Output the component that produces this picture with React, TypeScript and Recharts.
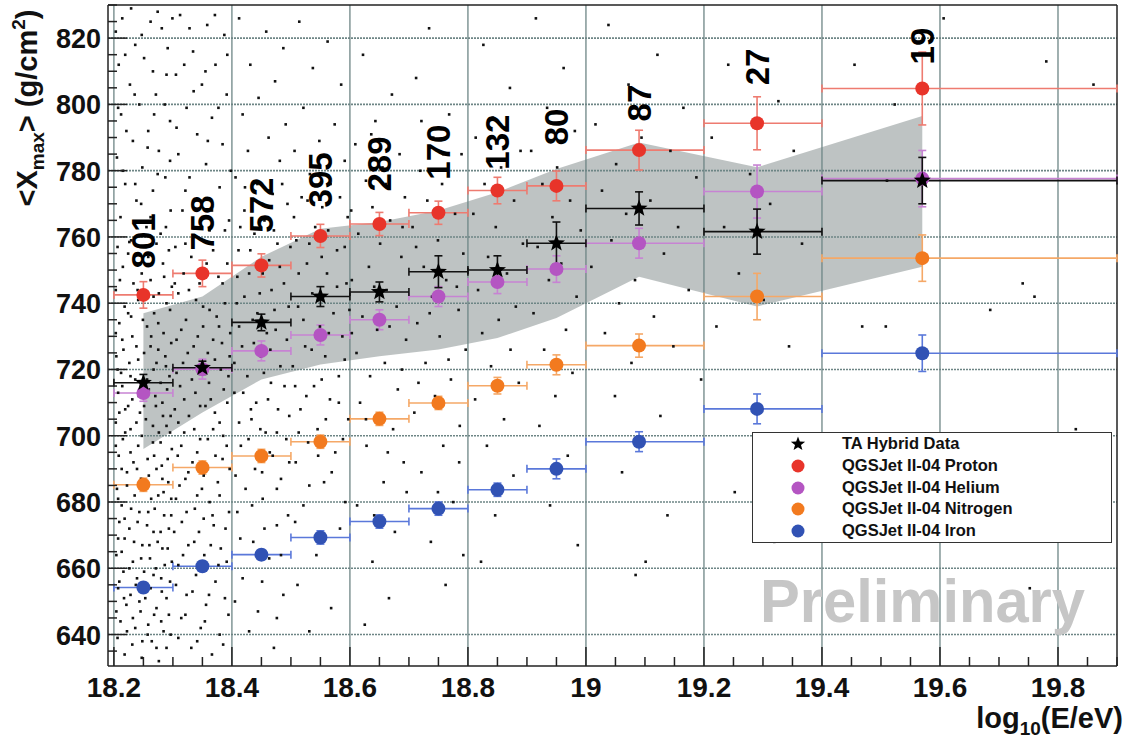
import React from 'react';
import { ComposedChart, Area, Scatter, ErrorBar, XAxis, YAxis, ReferenceLine } from 'recharts';

// energy bins (log10 E/eV)
const binCenters = [18.25, 18.35, 18.45, 18.55, 18.65, 18.75, 18.85, 18.95, 19.09, 19.29, 19.57];
const binLow = [18.2, 18.3, 18.4, 18.5, 18.6, 18.7, 18.8, 18.9, 19.0, 19.2, 19.4];
const binHigh = [18.3, 18.4, 18.5, 18.6, 18.7, 18.8, 18.9, 19.0, 19.2, 19.4, 19.9];

// <Xmax> values, g/cm2
const taMean = [716, 720.5, 734.2, 742, 743.4, 749.5, 750, 758.1, 768.6, 761.6, 777];
const taErr = [2.5, 2, 2.5, 3, 3, 4.8, 4.3, 6.4, 5, 6.8, 7];
const protonMean = [742.5, 749, 751.4, 760.3, 763.9, 767.3, 774, 775.4, 786.2, 794.3, 804.8];
const protonErr = [4, 4, 3.5, 3.5, 3.5, 3.5, 4, 4.5, 6, 8, 11];
const heliumMean = [712.9, 720.1, 725.6, 730.4, 735, 742, 746.4, 750.3, 758.1, 773.7, 777.6];
const heliumErr = [2.5, 3, 3, 3, 3, 3, 3.5, 4, 4.5, 8, 8.5];
const nitrogenMean = [685.2, 690.4, 693.9, 698.2, 705.1, 709.9, 715.1, 721.4, 727.2, 742, 753.6];
const nitrogenErr = [2, 2, 2, 2, 2, 2, 2.5, 3, 3.5, 7, 7];
const ironMean = [654.2, 660.6, 664.1, 669.3, 674.1, 678, 683.7, 690, 698.2, 708.1, 724.9];
const ironErr = [1.5, 1.5, 1.5, 2, 2, 2, 2, 3, 3, 4.5, 5.5];

// systematic band around the TA data
const bandHi = [737, 742, 754, 762.5, 764.5, 768, 773.5, 780.5, 788.5, 781, 796.5];
const bandLo = [696, 707, 717, 721.5, 724, 726, 729.5, 735.5, 748, 739, 751];

// number of events per bin
const eventCounts = [801, 758, 572, 395, 289, 170, 132, 80, 87, 27, 19];
const countLabelY = [758.8, 764.2, 769.6, 777.2, 782, 785.6, 788.6, 793.2, 800.4, 811.3, 817.6];

// individual events (log10 E, Xmax)
const events1820 = [
  [18.214, 826], [18.262, 825], [18.281, 823], [18.236, 818], [18.208, 812], [18.251, 814], [18.289, 809], [18.227, 806],
  [18.271, 803], [18.243, 800], [18.212, 797], [18.295, 795], [18.258, 792], [18.232, 789], [18.276, 786], [18.205, 784],
  [18.248, 781], [18.287, 778], [18.219, 776], [18.266, 774], [18.238, 771], [18.296, 768], [18.211, 766], [18.255, 763],
  [18.279, 761], [18.229, 759], [18.291, 817], [18.221, 792], [18.268, 797], [18.246, 770],
  [18.229, 829], [18.274, 828], [18.203, 822], [18.247, 821], [18.299, 826], [18.219, 815], [18.266, 810], [18.235, 803],
  [18.286, 800], [18.207, 799], [18.257, 787], [18.295, 783], [18.215, 780], [18.274, 779], [18.236, 776], [18.262, 766],
  [18.288, 763],
  [18.206, 757], [18.224, 755], [18.272, 758], [18.293, 756], [18.215, 751], [18.247, 749], [18.283, 752], [18.262, 747],
  [18.203, 744], [18.233, 746], [18.276, 743], [18.298, 745], [18.218, 739], [18.241, 741], [18.268, 737], [18.289, 740],
  [18.209, 734], [18.229, 736], [18.256, 733], [18.284, 731], [18.214, 729], [18.238, 727], [18.263, 730], [18.297, 728],
  [18.275, 726], [18.204, 724], [18.226, 722], [18.251, 725], [18.288, 721], [18.212, 719], [18.236, 717], [18.267, 720],
  [18.279, 716], [18.294, 718], [18.207, 713], [18.231, 711], [18.259, 714], [18.282, 710], [18.219, 708], [18.244, 707],
  [18.271, 709], [18.296, 706], [18.203, 704], [18.228, 702], [18.254, 705], [18.276, 701], [18.289, 703], [18.215, 699],
  [18.241, 697], [18.266, 698], [18.298, 696], [18.208, 694], [18.233, 692], [18.257, 693], [18.281, 691], [18.222, 689],
  [18.246, 687], [18.272, 690], [18.292, 686], [18.205, 684], [18.235, 682], [18.263, 681], [18.284, 683], [18.213, 679],
  [18.243, 677], [18.269, 678], [18.297, 676], [18.209, 674], [18.226, 672], [18.256, 673], [18.279, 671], [18.218, 669],
  [18.248, 667], [18.274, 668], [18.291, 666], [18.204, 664], [18.232, 662], [18.261, 663], [18.286, 661], [18.216, 659],
  [18.239, 657], [18.267, 658], [18.295, 656], [18.207, 654], [18.228, 652], [18.253, 651], [18.281, 653], [18.221, 649],
  [18.245, 647], [18.272, 648], [18.293, 646], [18.211, 644], [18.236, 642], [18.258, 643], [18.284, 641], [18.206, 639],
  [18.231, 637], [18.264, 638], [18.289, 636], [18.218, 634], [18.247, 633], [18.276, 632],
  [18.226, 758.5], [18.258, 754], [18.285, 748], [18.21, 747], [18.24, 744], [18.267, 742], [18.295, 738], [18.224, 737],
  [18.249, 735], [18.275, 734], [18.203, 731], [18.231, 730], [18.262, 727], [18.287, 724], [18.216, 726], [18.241, 723],
  [18.272, 722], [18.206, 720], [18.228, 718], [18.256, 717], [18.29, 714], [18.214, 715], [18.242, 712], [18.27, 712],
  [18.224, 709], [18.251, 709], [18.283, 706], [18.209, 707], [18.238, 704], [18.266, 703], [18.295, 701], [18.219, 701],
  [18.247, 700], [18.279, 698], [18.203, 697], [18.228, 695], [18.268, 694], [18.291, 693], [18.213, 690], [18.239, 690],
  [18.259, 688], [18.282, 687], [18.222, 685], [18.251, 684], [18.275, 682], [18.297, 681], [18.207, 681], [18.229, 678],
  [18.258, 677], [18.285, 676], [18.218, 675], [18.24, 674], [18.267, 671], [18.293, 672], [18.207, 669], [18.234, 668],
  [18.26, 667], [18.282, 666], [18.213, 665], [18.246, 663], [18.271, 660], [18.298, 662], [18.226, 660], [18.251, 659],
  [18.28, 657], [18.209, 656], [18.237, 655], [18.262, 654], [18.289, 651], [18.217, 651], [18.243, 650], [18.268, 646],
  [18.204, 647], [18.232, 645], [18.257, 640], [18.28, 644], [18.222, 641], [18.248, 638], [18.272, 636], [18.296, 640],
];
const events1830 = [
  [18.312, 827], [18.358, 824], [18.387, 821], [18.334, 816], [18.372, 812], [18.305, 809], [18.349, 806], [18.391, 803],
  [18.323, 799], [18.366, 796], [18.341, 791], [18.384, 788], [18.309, 785], [18.356, 782], [18.328, 778], [18.379, 775],
  [18.347, 771], [18.316, 768], [18.395, 765], [18.362, 762], [18.336, 760],
  [18.328, 823], [18.371, 827], [18.392, 815], [18.319, 812], [18.355, 810], [18.335, 804], [18.377, 799], [18.306, 793],
  [18.359, 789], [18.398, 780], [18.321, 774], [18.366, 768], [18.388, 762],
  [18.304, 757], [18.331, 754], [18.368, 756], [18.392, 752], [18.318, 749], [18.345, 746], [18.377, 748], [18.309, 743],
  [18.339, 741], [18.362, 738], [18.388, 740], [18.322, 735], [18.351, 733], [18.374, 736], [18.397, 731], [18.306, 729],
  [18.335, 727], [18.359, 725], [18.383, 728], [18.317, 722], [18.343, 719], [18.371, 723], [18.394, 718], [18.312, 715],
  [18.338, 713], [18.364, 711], [18.386, 714], [18.303, 708], [18.327, 706], [18.355, 709], [18.379, 704], [18.319, 701],
  [18.346, 699], [18.368, 702], [18.391, 697], [18.308, 694], [18.333, 692], [18.359, 690], [18.384, 693], [18.321, 687],
  [18.349, 684], [18.376, 686], [18.305, 681], [18.337, 678], [18.362, 680], [18.395, 677], [18.315, 674], [18.344, 671],
  [18.369, 673], [18.326, 667], [18.353, 664], [18.381, 666], [18.309, 661], [18.339, 658], [18.372, 656], [18.323, 652],
  [18.356, 649], [18.388, 651], [18.314, 645], [18.347, 642], [18.379, 640], [18.331, 636], [18.366, 634],
  [18.321, 758], [18.357, 752], [18.384, 746], [18.303, 746], [18.327, 744], [18.351, 739], [18.378, 733], [18.314, 732],
  [18.342, 730], [18.368, 729], [18.396, 724], [18.325, 725], [18.355, 721], [18.381, 720], [18.306, 719], [18.332, 717],
  [18.361, 716], [18.392, 710], [18.319, 711], [18.346, 709], [18.371, 707], [18.309, 704], [18.336, 702], [18.359, 699],
  [18.385, 700], [18.314, 697], [18.341, 695], [18.372, 694], [18.396, 690], [18.326, 689], [18.352, 688], [18.379, 682],
  [18.311, 685], [18.341, 682], [18.367, 676], [18.389, 672], [18.323, 677], [18.352, 675], [18.302, 671], [18.336, 668],
  [18.364, 667], [18.391, 662], [18.317, 664], [18.349, 660], [18.377, 661], [18.305, 655], [18.333, 653], [18.361, 652],
  [18.394, 646], [18.321, 646], [18.354, 644], [18.309, 639], [18.341, 638], [18.385, 637],
];
const events1840 = [
  [18.412, 826], [18.458, 822], [18.487, 817], [18.431, 812], [18.473, 807], [18.445, 802], [18.418, 797], [18.491, 794],
  [18.462, 790], [18.427, 786], [18.481, 783], [18.406, 778], [18.443, 776], [18.469, 773], [18.494, 770], [18.421, 768],
  [18.455, 765], [18.438, 761], [18.477, 758], [18.411, 756], [18.463, 753], [18.429, 749], [18.488, 746], [18.447, 743],
  [18.408, 740], [18.472, 738], [18.435, 735], [18.459, 731], [18.493, 729], [18.417, 727], [18.449, 724], [18.482, 721],
  [18.426, 718], [18.466, 716], [18.404, 713], [18.441, 710], [18.478, 708], [18.433, 705], [18.457, 701], [18.492, 699],
  [18.415, 697], [18.469, 694], [18.439, 690], [18.483, 687], [18.423, 684], [18.452, 681], [18.409, 677], [18.476, 673],
  [18.436, 668], [18.463, 663], [18.418, 657], [18.487, 652], [18.444, 647], [18.429, 641], [18.471, 636],
  [18.422, 775], [18.485, 776], [18.451, 770], [18.414, 763], [18.471, 762], [18.499, 757], [18.431, 756], [18.452, 749],
  [18.481, 751], [18.409, 748], [18.467, 744], [18.421, 742], [18.496, 739], [18.443, 737], [18.412, 733], [18.474, 732],
  [18.437, 728], [18.465, 726], [18.404, 722], [18.454, 719], [18.489, 715], [18.419, 713], [18.461, 711], [18.432, 708],
  [18.497, 706], [18.412, 704], [18.448, 702], [18.476, 701], [18.428, 699], [18.464, 695], [18.497, 692], [18.451, 689],
  [18.406, 688], [18.476, 684], [18.434, 679], [18.495, 676], [18.455, 672], [18.414, 669], [18.483, 664], [18.451, 656],
  [18.405, 650], [18.476, 645],
  [18.514, 825], [18.562, 819], [18.537, 811], [18.585, 806], [18.521, 799], [18.574, 794], [18.548, 789], [18.506, 786],
  [18.591, 783], [18.532, 779], [18.567, 776], [18.518, 772], [18.553, 769], [18.596, 766], [18.541, 763], [18.509, 759],
  [18.578, 756], [18.527, 752], [18.561, 749], [18.594, 746], [18.536, 743], [18.512, 739], [18.572, 737], [18.549, 733],
  [18.587, 730], [18.524, 727], [18.558, 724], [18.503, 721], [18.581, 718], [18.539, 715], [18.566, 711], [18.516, 708],
  [18.597, 705], [18.545, 702], [18.529, 698], [18.575, 695], [18.508, 692], [18.556, 686], [18.521, 679], [18.583, 672],
  [18.543, 664], [18.511, 655], [18.568, 648], [18.531, 641],
  [18.528, 771], [18.583, 772], [18.505, 766], [18.563, 762], [18.531, 758], [18.591, 757], [18.552, 754], [18.513, 749],
  [18.578, 745], [18.546, 741], [18.599, 738], [18.521, 735], [18.564, 731], [18.535, 726], [18.591, 723], [18.507, 715],
  [18.552, 717], [18.581, 710], [18.526, 712], [18.559, 705], [18.513, 701], [18.588, 699], [18.546, 694], [18.569, 689],
  [18.531, 685], [18.592, 680], [18.507, 674], [18.552, 669],
];
const events1860 = [
  [18.622, 815], [18.671, 803], [18.643, 795], [18.609, 788], [18.684, 785], [18.655, 781], [18.627, 777], [18.693, 772],
  [18.638, 769], [18.668, 765], [18.614, 761], [18.651, 758], [18.687, 754], [18.632, 751], [18.603, 747], [18.662, 744],
  [18.679, 739], [18.621, 736], [18.646, 732], [18.695, 729], [18.611, 725], [18.659, 722], [18.634, 718], [18.681, 714],
  [18.617, 710], [18.649, 706], [18.673, 702], [18.628, 697], [18.691, 692], [18.657, 686], [18.612, 679], [18.676, 671],
  [18.638, 662], [18.666, 651], [18.625, 643],
  [18.636, 791], [18.661, 776], [18.602, 768], [18.689, 763], [18.641, 745], [18.667, 733], [18.603, 731], [18.688, 720],
  [18.627, 705], [18.664, 695], [18.696, 683], [18.641, 676],
  [18.734, 823], [18.712, 808], [18.768, 797], [18.741, 790], [18.789, 785], [18.719, 780], [18.756, 776], [18.731, 771],
  [18.778, 767], [18.706, 763], [18.749, 759], [18.792, 755], [18.725, 751], [18.763, 747], [18.739, 742], [18.784, 738],
  [18.714, 734], [18.752, 730], [18.796, 726], [18.728, 722], [18.771, 717], [18.744, 712], [18.709, 707], [18.786, 703],
  [18.758, 697], [18.721, 689], [18.775, 680], [18.737, 668], [18.762, 655],
  [18.721, 795], [18.758, 785], [18.712, 757], [18.781, 745], [18.735, 737], [18.767, 723], [18.716, 716], [18.785, 692],
  [18.749, 683], [18.792, 664],
];
const events1880 = [
  [18.826, 818], [18.871, 805], [18.842, 796], [18.813, 790], [18.889, 786], [18.856, 781], [18.828, 776], [18.878, 771],
  [18.809, 767], [18.847, 763], [18.893, 758], [18.834, 754], [18.866, 749], [18.817, 744], [18.881, 739], [18.852, 735],
  [18.824, 731], [18.872, 726], [18.839, 721], [18.886, 716], [18.812, 711], [18.861, 705], [18.832, 697], [18.877, 688],
  [18.846, 676], [18.822, 662],
  [18.915, 826], [18.962, 811], [18.934, 799], [18.981, 792], [18.907, 786], [18.951, 781], [18.926, 776], [18.973, 771],
  [18.943, 766], [18.991, 762], [18.918, 757], [18.958, 752], [18.937, 747], [18.984, 742], [18.911, 737], [18.966, 732],
  [18.929, 726], [18.977, 719], [18.948, 712], [18.921, 703], [18.969, 694], [18.939, 679], [18.986, 667],
];
const events1900 = [
  [19.038, 824], [19.121, 815], [19.072, 806], [19.165, 799], [19.016, 794], [19.094, 790], [19.143, 786], [19.051, 782],
  [19.187, 778], [19.027, 774], [19.109, 771], [19.068, 767], [19.156, 763], [19.043, 759], [19.132, 755], [19.009, 751],
  [19.083, 747], [19.174, 744], [19.056, 740], [19.115, 736], [19.032, 731], [19.148, 727], [19.077, 722], [19.195, 717],
  [19.049, 712], [19.126, 706], [19.091, 699], [19.061, 689], [19.138, 676], [19.101, 662], [19.084, 658],
  [19.241, 812], [19.326, 801], [19.213, 790], [19.352, 786], [19.278, 779], [19.312, 770], [19.234, 763], [19.366, 758],
  [19.259, 749], [19.301, 741], [19.221, 733], [19.344, 727], [19.284, 696], [19.372, 690], [19.252, 683], [19.319, 668],
  [19.606, 826], [19.455, 812], [19.523, 800], [19.78, 813], [19.86, 806], [19.468, 733], [19.508, 733], [19.685, 738],
  [19.74, 746], [19.76, 742], [19.51, 777], [19.83, 702], [19.47, 697], [19.752, 654],
];

const xMajor = [18.2, 18.4, 18.6, 18.8, 19, 19.2, 19.4, 19.6, 19.8];
const yMajor = [640, 660, 680, 700, 720, 740, 760, 780, 800, 820];

const FONT = '"Liberation Sans", Arial, Helvetica, sans-serif';
const X_DOMAIN: [number, number] = [18.19, 19.9];
const Y_DOMAIN: [number, number] = [630.5, 830];

const xTicks: number[] = [];
for (let i = 0; i <= 34; i++) xTicks.push(Math.round((18.2 + i * 0.05) * 100) / 100);
const yTicks: number[] = [];
for (let v = 635; v <= 830; v += 5) yTicks.push(v);

const makeSeries = (mean: number[], err: number[]) =>
  binCenters.map((x, i) => ({ x, y: mean[i], ey: err[i], ex: [x - binLow[i], binHigh[i] - x] }));

const taData = makeSeries(taMean, taErr);
const protonData = makeSeries(protonMean, protonErr);
const heliumData = makeSeries(heliumMean, heliumErr);
const nitrogenData = makeSeries(nitrogenMean, nitrogenErr);
const ironData = makeSeries(ironMean, ironErr);
const bandData = binCenters.map((x, i) => ({ x, lo: bandLo[i], hi: bandHi[i] }));
const countData = binCenters.map((x, i) => ({ x, y: countLabelY[i], n: eventCounts[i] }));
const eventData = [...events1820, ...events1830, ...events1840, ...events1860, ...events1880, ...events1900].map(
  ([x, y]) => ({ x, y })
);

const models = [
  { name: 'QGSJet II-04 Proton', data: protonData, color: '#e8342a', bar: '#ee7b70' },
  { name: 'QGSJet II-04 Helium', data: heliumData, color: '#b455c2', bar: '#c783d3' },
  { name: 'QGSJet II-04 Nitrogen', data: nitrogenData, color: '#f27a1f', bar: '#f5a867' },
  { name: 'QGSJet II-04 Iron', data: ironData, color: '#3152b4', bar: '#5a78da' },
];

const isMajor = (v: number, step: number) => Math.abs(v / step - Math.round(v / step)) < 1e-6;

const XTick = (props: any) => {
  const { x, y, payload } = props;
  const v = payload.value;
  const major = isMajor(v, 0.2);
  return (
    <g>
      <line x1={x} x2={x} y1={y} y2={y - (major ? 19 : 9)} stroke="#222" strokeWidth={1.5} />
      {major && (
        <text x={x} y={y + 31} textAnchor="middle" fontSize={28} fontWeight="bold" fontFamily={FONT} fill="#111">
          {String(v)}
        </text>
      )}
    </g>
  );
};

const YTick = (props: any) => {
  const { x, y, payload } = props;
  const v = payload.value;
  const major = isMajor(v, 20);
  return (
    <g>
      <line x1={x} x2={x + (major ? 19 : 9)} y1={y} y2={y} stroke="#222" strokeWidth={1.5} />
      {major && (
        <text x={x - 7} y={y + 10} textAnchor="end" fontSize={27} fontWeight="bold" fontFamily={FONT} fill="#111">
          {String(v)}
        </text>
      )}
    </g>
  );
};

const Star = ({ cx, cy, size = 8, fill = '#000' }: any) => {
  if (cx == null || cy == null) return null;
  const pts: string[] = [];
  for (let i = 0; i < 10; i++) {
    const r = i % 2 === 0 ? size : size * 0.42;
    const a = -Math.PI / 2 + (i * Math.PI) / 5;
    pts.push(`${cx + r * Math.cos(a)},${cy + r * Math.sin(a)}`);
  }
  return <polygon points={pts.join(' ')} fill={fill} />;
};

const dotShape = (color: string) => (p: any) =>
  p.cx == null ? null : <circle cx={p.cx} cy={p.cy} r={7} fill={color} />;

const eventShape = (p: any) =>
  p.cx == null ? null : <rect x={p.cx - 1.2} y={p.cy - 1.2} width={2.6} height={2.6} fill="#111" />;

const CountLabel = (p: any) => {
  if (p.cx == null) return null;
  return (
    <text
      transform={`translate(${p.cx}, ${p.cy}) rotate(-90)`}
      textAnchor="middle"
      dominantBaseline="central"
      fontSize={33}
      fontWeight="bold"
      fontFamily={FONT}
      fill="#000"
    >
      {p.payload.n}
    </text>
  );
};

const Legend = () => (
  <div
    style={{
      position: 'absolute',
      left: 752,
      top: 432,
      width: 358,
      height: 109,
      border: '1.5px solid #333',
      background: '#fff',
      fontFamily: FONT,
      fontWeight: 'bold',
      fontSize: 16.5,
    }}
  >
    {[{ name: 'TA Hybrid Data', color: '#000', star: true }, ...models].map((m: any, i) => (
      <div key={m.name} style={{ position: 'absolute', left: 0, top: 1 + i * 21.8, height: 20, width: 356 }}>
        <svg width={30} height={20} style={{ position: 'absolute', left: 30, top: 0 }}>
          {m.star ? <Star cx={15} cy={10} size={7.5} /> : <circle cx={15} cy={10} r={6.5} fill={m.color} />}
        </svg>
        <span style={{ position: 'absolute', left: 89, top: 0, color: '#111', whiteSpace: 'nowrap' }}>{m.name}</span>
      </div>
    ))}
  </div>
);

const Titles = () => (
  <svg width={1130} height={742} style={{ position: 'absolute', left: 0, top: 0, pointerEvents: 'none' }}>
    <text x={760} y={622} fontSize={61} fontWeight="bold" fontFamily={FONT} fill="#c6c6c6" textLength={325} lengthAdjust="spacingAndGlyphs">
      Preliminary
    </text>
    <text transform="translate(37, 108) rotate(-90)" textAnchor="middle" fontSize={29} fontWeight="bold" fontFamily={FONT} fill="#111">
      {'<X'}
      <tspan fontSize={19} dy={7}>max</tspan>
      <tspan dy={-7}>{'> (g/cm'}</tspan>
      <tspan fontSize={19} dy={-12}>2</tspan>
      <tspan dy={12}>)</tspan>
    </text>
    <text x={1123} y={728} textAnchor="end" fontSize={29} fontWeight="bold" fontFamily={FONT} fill="#111">
      log
      <tspan fontSize={19} dy={7}>10</tspan>
      <tspan dy={-7}>(E/eV)</tspan>
    </text>
  </svg>
);

export default function App() {
  return (
    <div style={{ position: 'absolute', left: 0, top: 0, width: 1130, height: 742, background: '#fff' }}>
      <ComposedChart width={1130} height={742} margin={{ top: 5, right: 13, bottom: 0, left: 0 }}>
        <XAxis
          type="number"
          dataKey="x"
          domain={X_DOMAIN}
          allowDataOverflow
          ticks={xTicks}
          interval={0}
          tickSize={0}
          tickMargin={0}
          tickLine={false}
          tick={<XTick />}
          height={76}
          axisLine={{ stroke: '#222', strokeWidth: 1.5 }}
        />
        <YAxis
          type="number"
          domain={Y_DOMAIN}
          allowDataOverflow
          ticks={yTicks}
          interval={0}
          tickSize={0}
          tickMargin={0}
          tickLine={false}
          tick={<YTick />}
          width={108}
          axisLine={{ stroke: '#222', strokeWidth: 1.5 }}
        />
        <Area
          data={bandData}
          dataKey={(d: any) => [d.lo, d.hi]}
          type="linear"
          stroke="none"
          fill="#b3b8b8"
          fillOpacity={0.85}
          isAnimationActive={false}
        />
        {xMajor.map((v) => (
          <ReferenceLine key={'gx' + v} x={v} stroke="#6d8585" strokeWidth={1.3} />
        ))}
        {yMajor.map((v) => (
          <ReferenceLine key={'gy' + v} y={v} stroke="#6d8585" strokeWidth={1.6} strokeDasharray="2 1" />
        ))}
        <ReferenceLine y={Y_DOMAIN[1]} stroke="#222" strokeWidth={1.5} />
        <ReferenceLine x={X_DOMAIN[1]} stroke="#222" strokeWidth={1.5} />
        <Scatter name="events" data={eventData} dataKey="y" shape={eventShape} isAnimationActive={false} />
        {models.map((m) => (
          <Scatter key={m.name} name={m.name} data={m.data} dataKey="y" shape={dotShape(m.color)} isAnimationActive={false}>
            <ErrorBar dataKey="ex" direction="x" width={4} stroke={m.bar} strokeWidth={1.6} />
            <ErrorBar dataKey="ey" direction="y" width={4} stroke={m.bar} strokeWidth={1.6} />
          </Scatter>
        ))}
        <Scatter name="TA Hybrid Data" data={taData} dataKey="y" shape={(p: any) => <Star cx={p.cx} cy={p.cy} size={9} />} isAnimationActive={false}>
          <ErrorBar dataKey="ex" direction="x" width={4} stroke="#111" strokeWidth={1.6} />
          <ErrorBar dataKey="ey" direction="y" width={4} stroke="#111" strokeWidth={1.6} />
        </Scatter>
        <Scatter name="counts" data={countData} dataKey="y" shape={CountLabel} isAnimationActive={false} />
      </ComposedChart>
      <Legend />
      <Titles />
    </div>
  );
}
